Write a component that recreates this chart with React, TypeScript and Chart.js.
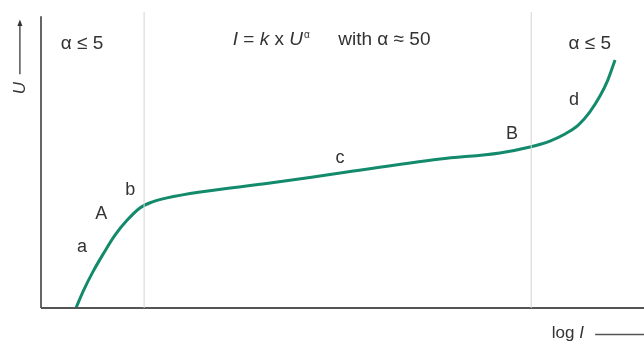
import React, { useEffect, useRef } from "react";
import { Chart, registerables } from "chart.js";

Chart.register(...registerables);

// log I (arbitrary units 0..100) and U (arbitrary units 0..100)
const CURVE_X = [5.8, 7.1, 8.6, 10.3, 12.3, 14.3, 16.4, 18.4, 20.9, 26.4, 38.0, 49.6, 66.2, 76.1, 81.1, 84.4, 86.9, 89.1, 91.0, 92.7, 94.0, 95.2];
const CURVE_Y = [0, 6.1, 12.2, 18.2, 24.7, 29.7, 33.8, 35.8, 37.2, 39.2, 42.2, 45.6, 50.3, 52.4, 54.4, 56.4, 58.8, 61.8, 66.2, 71.6, 77.0, 83.8];

// region boundaries (log I)
const REGION_BOUNDS = [17.1, 81.3];

// point labels on the curve
const POINT_LABELS = ["a", "A", "b", "c", "B", "d"];
const POINT_LABEL_X = [6.8, 10.0, 14.8, 49.6, 78.1, 88.4];
const POINT_LABEL_Y = [20.6, 31.8, 39.9, 50.7, 58.8, 70.3];

// region annotations
const REGION_TEXTS = ["α ≤ 5", "α ≤ 5"];
const REGION_TEXT_X = [6.8, 91.0];
const REGION_TEXT_Y = [89.2, 89.2];

const FONT = "'Liberation Sans', Arial, Helvetica, sans-serif";
const TEXT_COLOR = "#333";
const FS = 19;

const textPlugin = {
  id: "texts",
  afterDatasetsDraw(chart: any) {
    const ctx = chart.ctx as CanvasRenderingContext2D;
    const xs = chart.scales.x;
    const ys = chart.scales.y;
    const px = (v: number) => xs.getPixelForValue(v);
    const py = (v: number) => ys.getPixelForValue(v);
    ctx.save();
    ctx.fillStyle = TEXT_COLOR;
    ctx.textBaseline = "middle";

    // point labels
    ctx.textAlign = "center";
    ctx.font = `18px ${FONT}`;
    POINT_LABELS.forEach((t, i) => {
      ctx.fillText(t, px(POINT_LABEL_X[i]), py(POINT_LABEL_Y[i]));
    });

    // region texts
    ctx.font = `${FS}px ${FONT}`;
    REGION_TEXTS.forEach((t, i) => {
      ctx.fillText(t, px(REGION_TEXT_X[i]), py(REGION_TEXT_Y[i]));
    });

    // title formula
    ctx.textAlign = "left";
    const y0 = py(90.5);
    let x = px(31.8);
    const pieces: [string, string, number][] = [
      ["I", "italic", 0],
      [" = ", "", 0],
      ["k", "italic", 0],
      [" x ", "", 0],
      ["U", "italic", 0],
      ["α", "", 1],
    ];
    pieces.forEach(([t, st, sup]) => {
      ctx.font = sup ? `10px ${FONT}` : `${st} ${FS}px ${FONT}`;
      ctx.fillText(t, x + (sup ? 1 : 0), sup ? y0 - 5 : y0);
      x += ctx.measureText(t).width;
    });
    ctx.font = `${FS}px ${FONT}`;
    ctx.fillText("with α ≈ 50", px(49.3), y0);

    // y axis label with arrow
    const ax = px(-3.5);
    ctx.strokeStyle = "#555";
    ctx.lineWidth = 1.5;
    ctx.beginPath();
    ctx.moveTo(ax, py(79));
    ctx.lineTo(ax, py(96));
    ctx.stroke();
    ctx.fillStyle = "#333";
    ctx.beginPath();
    ctx.moveTo(ax, py(97.5));
    ctx.lineTo(ax - 2.5, py(95.3));
    ctx.lineTo(ax + 2.5, py(95.3));
    ctx.closePath();
    ctx.fill();
    ctx.save();
    ctx.translate(ax, py(74.3));
    ctx.rotate(-Math.PI / 2);
    ctx.textAlign = "center";
    ctx.fillStyle = TEXT_COLOR;
    ctx.font = `italic 17px ${FONT}`;
    ctx.fillText("U", 0, 0);
    ctx.restore();

    // x axis label with arrow
    const ly = py(-8.6);
    ctx.fillStyle = TEXT_COLOR;
    ctx.textAlign = "left";
    ctx.font = `17px ${FONT}`;
    const lx = px(84.7);
    ctx.fillText("log ", lx, ly);
    const w1 = ctx.measureText("log ").width;
    ctx.font = `italic 17px ${FONT}`;
    ctx.fillText("I", lx + w1, ly);
    ctx.beginPath();
    ctx.moveTo(px(91.9), ly + 1);
    ctx.lineTo(px(100), ly + 1);
    ctx.stroke();
    ctx.restore();
  },
};

export default function App() {
  const ref = useRef<HTMLCanvasElement>(null);
  useEffect(() => {
    if (!ref.current) return;
    const curve = CURVE_X.map((x, i) => ({ x, y: CURVE_Y[i] }));
    const chart = new Chart(ref.current, {
      type: "line",
      data: {
        datasets: [
          ...REGION_BOUNDS.map((b) => ({
            data: [
              { x: b, y: 0 },
              { x: b, y: 100 },
            ],
            borderColor: "#d4d4d4",
            borderWidth: 1,
            pointRadius: 0,
            clip: false as any,
          })),
          {
            data: [
              { x: 0, y: 0 },
              { x: 100, y: 0 },
            ],
            borderColor: "#555",
            borderWidth: 2,
            pointRadius: 0,
            clip: false as any,
          },
          {
            data: [
              { x: 0, y: 0 },
              { x: 0, y: 98.6 },
            ],
            borderColor: "#666",
            borderWidth: 2,
            pointRadius: 0,
            clip: false as any,
          },
          {
            data: curve,
            borderColor: "#138a6c",
            borderWidth: 3,
            pointRadius: 0,
            cubicInterpolationMode: "monotone",
            clip: false as any,
          },
        ],
      },
      options: {
        animation: false,
        responsive: false,
        events: [],
        layout: { padding: { left: 41, right: 0, top: 12, bottom: 37 } },
        plugins: { legend: { display: false }, tooltip: { enabled: false } },
        scales: {
          x: { type: "linear", min: 0, max: 100, display: false },
          y: { type: "linear", min: 0, max: 100, display: false },
        },
      },
      plugins: [textPlugin],
    });
    return () => chart.destroy();
  }, []);
  return (
    <div style={{ position: "absolute", left: 0, top: 0, width: 644, height: 345, background: "#fff" }}>
      <canvas ref={ref} width={644} height={345} />
    </div>
  );
}
